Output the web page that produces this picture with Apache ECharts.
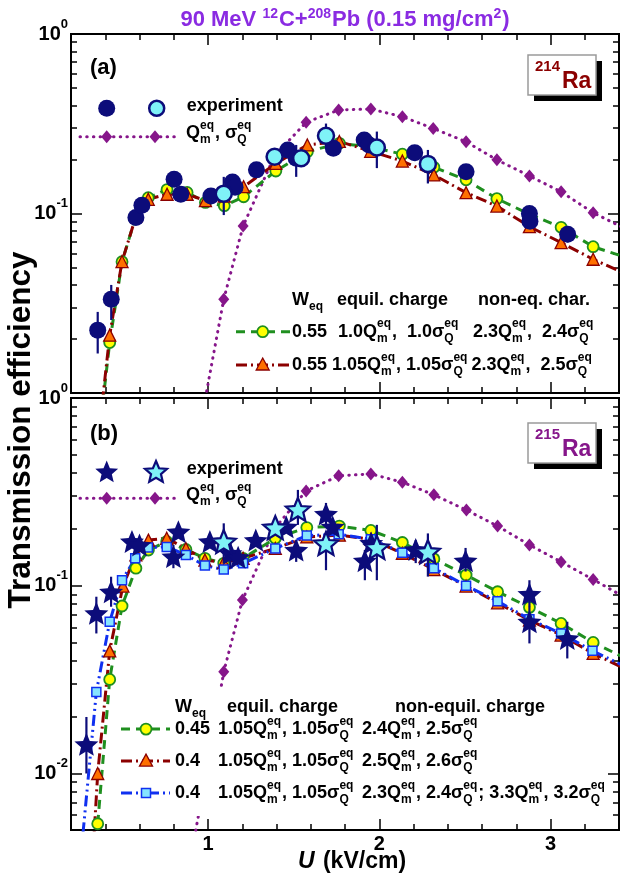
<!DOCTYPE html>
<html><head><meta charset="utf-8">
<script src="https://cdn.jsdelivr.net/npm/echarts@6/dist/echarts.min.js"></script>
<style>html,body{margin:0;padding:0;background:#fff}#c{width:620px;height:880px}</style>
</head><body><div id="c"></div>
<script>
// ---------------- DATA ----------------
// x-axis tick values
const xMajorTicks = [1, 2, 3];
const yDecades = [0.01, 0.1, 1];
const yMinorA = [0.02,0.03,0.04,0.05,0.06,0.07,0.08,0.09,0.2,0.3,0.4,0.5,0.6,0.7,0.8,0.9];
const yMinorB = [0.006,0.007,0.008,0.009,0.02,0.03,0.04,0.05,0.06,0.07,0.08,0.09,0.2,0.3,0.4,0.5,0.6,0.7,0.8,0.9];

// Panel (a) 214Ra
const aExpX = [0.356,0.435,0.579,0.614,0.802,0.841,1.017,1.143,1.158,1.283,1.466,1.515,1.732,1.912,1.941,2.207,2.507,2.877,2.880,3.100];
const aExpY = [0.0224,0.0333,0.095,0.111,0.155,0.128,0.125,0.150,0.140,0.175,0.226,0.203,0.231,0.257,0.241,0.218,0.171,0.100,0.0905,0.0766];
const aExpOpenX = [1.092,1.389,1.544,1.689,1.986,2.284];
const aExpOpenY = [0.129,0.207,0.203,0.271,0.233,0.189];
const aErrX  = [0.356,0.435,1.092,1.466,1.515,1.689,1.986,2.284,3.100];
const aErrLo = [0.0166,0.0255,0.098,0.205,0.160,0.231,0.179,0.147,0.069];
const aErrHi = [0.0283,0.040,0.160,0.250,0.241,0.317,0.286,0.226,0.085];
const aEqX = [0.985,1.092,1.205,1.389,1.573,1.763,1.951,2.135,2.315,2.507,2.687,2.877,3.062,3.249,3.44];
const aEqY = [0.0094,0.0333,0.0852,0.21,0.322,0.377,0.382,0.346,0.298,0.251,0.199,0.162,0.132,0.101,0.082];
const aM1X = [0.356,0.426,0.498,0.58,0.651,0.761,0.878,0.985,1.095,1.208,1.396,1.58,1.767,1.95,2.135,2.319,2.507,2.687,2.877,3.062,3.249,3.44];
const aM1Y = [0.005,0.0191,0.0539,0.097,0.1225,0.136,0.131,0.1153,0.1105,0.124,0.1725,0.221,0.246,0.235,0.214,0.181,0.154,0.121,0.099,0.0838,0.0653,0.057];
const aM2X = [0.356,0.426,0.498,0.58,0.651,0.761,0.878,0.985,1.095,1.208,1.396,1.58,1.767,1.95,2.135,2.319,2.507,2.687,2.877,3.062,3.249,3.44];
const aM2Y = [0.0052,0.021,0.054,0.097,0.12,0.128,0.128,0.118,0.125,0.141,0.19,0.241,0.252,0.222,0.196,0.164,0.1306,0.110,0.0845,0.0688,0.0556,0.046];

// Panel (b) 215Ra
const bExpX = [0.290,0.348,0.434,0.556,0.600,0.798,0.827,1.011,1.131,1.176,1.279,1.457,1.515,1.689,1.728,1.916,1.953,2.213,2.504,2.877,2.877,3.098];
const bExpY = [0.0143,0.0713,0.0929,0.172,0.165,0.143,0.194,0.172,0.149,0.142,0.175,0.206,0.155,0.241,0.206,0.136,0.169,0.156,0.136,0.0903,0.0643,0.0524];
const bExpOpenX = [1.092,1.393,1.525,1.689,1.986,2.284];
const bExpOpenY = [0.172,0.204,0.255,0.168,0.160,0.152];
const bErrX  = [0.290,0.348,0.434,0.798,1.092,1.131,1.525,1.515,1.689,1.689,1.916,1.986,2.284,2.213,2.504,2.877,2.877,3.098];
const bErrLo = [0.010,0.0557,0.0773,0.124,0.1316,0.124,0.211,0.134,0.206,0.121,0.107,0.107,0.112,0.132,0.119,0.077,0.0493,0.041];
const bErrHi = [0.020,0.0874,0.1117,0.165,0.215,0.175,0.324,0.175,0.276,0.190,0.155,0.211,0.190,0.175,0.159,0.107,0.0773,0.0643];
const bEqX = [0.9,0.985,1.092,1.201,1.393,1.573,1.763,1.951,2.135,2.319,2.509,2.691,2.877,3.062,3.249,3.44];
const bEqY = [0.0036,0.0095,0.0348,0.0839,0.204,0.320,0.385,0.394,0.356,0.305,0.253,0.208,0.165,0.134,0.108,0.086];
const bM1X = [0.356,0.426,0.498,0.579,0.652,0.759,0.871,0.982,1.092,1.205,1.393,1.577,1.767,1.951,2.135,2.319,2.507,2.691,2.877,3.062,3.249,3.44];
const bM1Y = [0.0054,0.0317,0.078,0.124,0.155,0.172,0.156,0.140,0.1316,0.140,0.179,0.204,0.208,0.197,0.170,0.139,0.114,0.0929,0.0767,0.063,0.0499,0.041];
const bM2X = [0.33,0.356,0.426,0.503,0.579,0.652,0.759,0.871,0.982,1.092,1.205,1.393,1.577,1.767,1.951,2.135,2.319,2.507,2.691,2.877,3.062,3.249,3.44];
const bM2Y = [0.004,0.010,0.045,0.0996,0.146,0.175,0.179,0.158,0.137,0.133,0.140,0.158,0.182,0.186,0.177,0.149,0.122,0.0996,0.0811,0.0656,0.0546,0.0436,0.036];
const bM3X = [0.27,0.348,0.426,0.498,0.575,0.649,0.759,0.871,0.982,1.092,1.205,1.393,1.577,1.763,1.951,2.135,2.319,2.507,2.691,2.877,3.062,3.245,3.44];
const bM3Y = [0.0048,0.0272,0.0643,0.107,0.140,0.160,0.161,0.146,0.128,0.122,0.1316,0.158,0.185,0.188,0.177,0.150,0.124,0.100,0.0828,0.0664,0.0557,0.045,0.037];

// ---------------- STYLE ----------------
const FF = '"Liberation Sans", Arial, Helvetica, sans-serif';
const NAVY = '#0c0c7a', CYAN = '#7ff2f7', PURPLE = '#86168a', GREEN = '#1f8f1f', DRED = '#8b0000',
      ORANGE = '#ff7000', BLUE = '#1030f0', LBLUE = '#86e4ff', YEL = '#ffff00';
const DOT = [0.5, 6.2], DASH = [9, 6], DASHDOT = [11, 4, 2, 4], DASHDOTDOT = [11, 4, 2, 4, 2, 4];

function starPts(cx, cy, R, r) {
  const p = [];
  for (let i = 0; i < 10; i++) { const a = -Math.PI/2 + i*Math.PI/5, rr = i % 2 ? r : R; p.push([cx + rr*Math.cos(a), cy + rr*Math.sin(a)]); }
  return p;
}
const STAR = 'path://' + starPts(0,0,10,4.5).map((q,i)=>(i?'L':'M')+q[0].toFixed(2)+' '+q[1].toFixed(2)).join('') + 'Z';

const chart = echarts.init(document.getElementById('c'), null, {renderer: 'canvas', width: 620, height: 880});

const grids = [{left: 71, top: 34, width: 548, height: 359}, {left: 71, top: 398, width: 548, height: 432}];
const AX = {color: '#000', width: 2};
function xAxes(g, labels) {
  const base = {gridIndex: g, type: 'value', min: 0.2, max: 3.4, splitLine: {show: false}, axisLine: {show: true, onZero: false, lineStyle: AX}};
  const lab = {show: false};
  const major = {inside: true, length: 11, lineStyle: {color: '#000', width: 1.5}, customValues: xMajorTicks};
  const minor = {inside: true, length: 6, lineStyle: {color: '#000', width: 1.5}};
  return [
    Object.assign({}, base, {position: 'bottom', axisTick: major,
      axisLabel: labels ? {show: true, customValues: xMajorTicks, margin: 4, fontSize: 20, fontWeight: 'bold', fontFamily: FF, color: '#000'} : lab}),
    Object.assign({}, base, {position: 'bottom', interval: 0.2, axisTick: minor, axisLabel: lab}),
    Object.assign({}, base, {position: 'top', axisTick: major, axisLabel: lab}),
    Object.assign({}, base, {position: 'top', interval: 0.2, axisTick: minor, axisLabel: lab})
  ];
}
function yAxes(g, min, minors) {
  const base = {gridIndex: g, type: 'log', logBase: 10, min: min, max: 1, splitLine: {show: false}, axisLine: {show: true, onZero: false, lineStyle: AX}, axisLabel: {show: false}};
  const major = {inside: true, length: 11, lineStyle: {color: '#000', width: 1.5}, customValues: yDecades};
  const minor = {inside: true, length: 6, lineStyle: {color: '#000', width: 1.5}, customValues: minors};
  return [
    Object.assign({}, base, {position: 'left', axisTick: major}),
    Object.assign({}, base, {position: 'left', axisTick: minor}),
    Object.assign({}, base, {position: 'right', axisTick: major}),
    Object.assign({}, base, {position: 'right', axisTick: minor})
  ];
}
const pairs = (xs, ys) => xs.map((x, i) => [x, ys[i]]);
function lineS(p, xs, ys, color, dash, cap, symbol, size, fill, border, bw, z) {
  return {type: 'line', xAxisIndex: p*4, yAxisIndex: p*4, data: pairs(xs, ys), clip: true, z: z,
    symbol: symbol, symbolSize: size, showSymbol: true,
    lineStyle: {color: color, width: 3, type: dash, cap: cap},
    itemStyle: {color: fill, borderColor: border, borderWidth: bw},
    emphasis: {disabled: true}, silent: true, animation: false};
}
function scatS(p, xs, ys, symbol, size, fill, border, bw, z) {
  return {type: 'scatter', xAxisIndex: p*4, yAxisIndex: p*4, data: pairs(xs, ys), clip: true, z: z,
    symbol: symbol, symbolSize: size, itemStyle: {color: fill, borderColor: border, borderWidth: bw, opacity: 1},
    emphasis: {disabled: true}, silent: true, animation: false};
}
function errS(p, xs, lo, hi) {
  return {type: 'custom', xAxisIndex: p*4, yAxisIndex: p*4, clip: true, silent: true, animation: false, z: 6,
    data: xs.map((x, i) => [x, lo[i], hi[i]]),
    encode: {x: 0, y: [1, 2]},
    renderItem: function (params, api) {
      const a = api.coord([api.value(0), api.value(1)]), b = api.coord([api.value(0), api.value(2)]);
      return {type: 'line', shape: {x1: a[0], y1: a[1], x2: b[0], y2: b[1]}, style: {stroke: NAVY, lineWidth: 2.2}};
    }};
}

const series = [
  lineS(0, aEqX, aEqY, PURPLE, DOT, 'round', 'diamond', [11, 13], PURPLE, PURPLE, 0, 3),
  lineS(0, aM1X, aM1Y, GREEN, DASH, 'butt', 'circle', 11, YEL, GREEN, 1.8, 4),
  lineS(0, aM2X, aM2Y, DRED, DASHDOT, 'butt', 'triangle', 12, ORANGE, DRED, 1.3, 4),
  errS(0, aErrX, aErrLo, aErrHi),
  scatS(0, aExpX, aExpY, 'circle', 17, NAVY, NAVY, 0, 7),
  scatS(0, aExpOpenX, aExpOpenY, 'circle', 16, CYAN, NAVY, 2.5, 8),

  lineS(1, bEqX, bEqY, PURPLE, DOT, 'round', 'diamond', [11, 13], PURPLE, PURPLE, 0, 3),
  lineS(1, bM1X, bM1Y, GREEN, DASH, 'butt', 'circle', 11, YEL, GREEN, 1.8, 4),
  lineS(1, bM2X, bM2Y, DRED, DASHDOT, 'butt', 'triangle', 12, ORANGE, DRED, 1.3, 4),
  lineS(1, bM3X, bM3Y, BLUE, DASHDOTDOT, 'butt', 'rect', 9, LBLUE, BLUE, 1.5, 4),
  errS(1, bErrX, bErrLo, bErrHi),
  scatS(1, bExpX, bExpY, STAR, [24, 23], NAVY, NAVY, 0, 7),
  scatS(1, bExpOpenX, bExpOpenY, STAR, [24, 23], CYAN, NAVY, 2.2, 8)
];

chart.setOption({
  animation: false,
  backgroundColor: '#fff',
  grid: grids,
  xAxis: xAxes(0, false).concat(xAxes(1, true)),
  yAxis: yAxes(0, 0.01, yMinorA).concat(yAxes(1, 0.005, yMinorB)),
  series: series
});

// ---------------- TEXT / LEGENDS (graphic) ----------------
const mctx = document.createElement('canvas').getContext('2d');
function tw(s, size, it) { mctx.font = (it ? 'italic ' : '') + 'bold ' + size + 'px ' + FF; return mctx.measureText(s).width; }
function txt(s, x, base, size, color, it) {
  return {type: 'text', x: x, y: base - 0.35*size, z: 120, silent: true,
    style: {text: s, fontSize: size, fontWeight: 'bold', fontStyle: it ? 'italic' : 'normal', fontFamily: FF, fill: color,
      align: 'left', verticalAlign: 'middle', textAlign: 'left', textVerticalAlign: 'middle'}};
}
function mathLayout(tokens, size, o) {
  o = Object.assign({ratio: 0.66, sup: 0.55, sub: 0.25}, o || {});
  const ss = Math.round(size*o.ratio);
  const items = []; let cx = 0;
  tokens.forEach(t => {
    if (typeof t === 'string') { items.push([t, cx, 0, size, false]); cx += tw(t, size); }
    else if (t.it) { items.push([t.it, cx, 0, size, true]); cx += tw(t.it, size, true) + 2; }
    else {
      let w = 0;
      if (t.sup) { items.push([t.sup, cx, -size*o.sup, ss, false]); w = Math.max(w, tw(t.sup, ss)); }
      if (t.sub) { items.push([t.sub, cx, size*o.sub, ss, false]); w = Math.max(w, tw(t.sub, ss)); }
      cx += w + 1;
    }
  });
  return {items: items, width: cx};
}
function mathText(tokens, x, base, size, color, align, o) {
  const L = mathLayout(tokens, size, o);
  const x0 = align === 'center' ? x - L.width/2 : align === 'right' ? x - L.width : x;
  return L.items.map(it => txt(it[0], x0 + it[1], base + it[2], it[3], color, it[4]));
}
const Qm = ['Q', {sup: 'eq', sub: 'm'}];
const SQ = ['σ', {sup: 'eq', sub: 'Q'}];
const G = [];
const add = a => { Array.isArray(a) ? a.forEach(e => G.push(e)) : G.push(a); };

function hline(x1, x2, y, color, dash, cap) {
  return {type: 'line', z: 115, silent: true, shape: {x1: x1, y1: y, x2: x2, y2: y}, style: {stroke: color, lineWidth: 3, lineDash: dash, lineCap: cap}};
}
function circ(cx, cy, r, fill, stroke, lw) { return {type: 'circle', z: 116, silent: true, shape: {cx: cx, cy: cy, r: r}, style: {fill: fill, stroke: stroke, lineWidth: lw}}; }
function poly(pts, fill, stroke, lw) { return {type: 'polygon', z: 116, silent: true, shape: {points: pts}, style: {fill: fill, stroke: stroke, lineWidth: lw}}; }
function diamond(cx, cy) { return poly([[cx, cy-6.5], [cx+5.5, cy], [cx, cy+6.5], [cx-5.5, cy]], PURPLE, PURPLE, 0); }
function tri(cx, cy) { return poly([[cx, cy-7], [cx+6.5, cy+5], [cx-6.5, cy+5]], ORANGE, DRED, 1.3); }
function sq(cx, cy) { return {type: 'rect', z: 116, silent: true, shape: {x: cx-4.5, y: cy-4.5, width: 9, height: 9}, style: {fill: LBLUE, stroke: BLUE, lineWidth: 1.5}}; }

// title
add(mathText(['90 MeV ', {sup: '12'}, 'C+', {sup: '208'}, 'Pb (0.15 mg/cm', {sup: '2'}, ')'], 345, 28, 22, '#8a2be2', 'center', {ratio: 0.64, sup: 0.42}));
// axis titles
add({type: 'text', x: 21, y: 430, rotation: Math.PI/2, z: 120, silent: true,
  style: {text: 'Transmission efficiency', fontSize: 31.5, fontWeight: 'bold', fontFamily: FF, fill: '#000',
    align: 'center', verticalAlign: 'middle', textAlign: 'center', textVerticalAlign: 'middle'}});
add(mathText([{it: 'U'}, ' (kV/cm)'], 352, 870, 23, '#000', 'center'));

// y tick labels (positions from the axes)
function yLab(yi, v, s) {
  const py = chart.convertToPixel({yAxisIndex: yi}, v);
  add(mathText(['10', {sup: s}], 69, py + 7, 20, '#000', 'right', {ratio: 0.65, sup: 0.62}));
}
yLab(0, 1, '0'); yLab(0, 0.1, '-1');
yLab(4, 1, '0'); yLab(4, 0.1, '-1'); yLab(4, 0.01, '-2');

// panel labels
add(txt('(a)', 90, 76, 22, '#000'));
add(txt('(b)', 90, 442, 22, '#000'));

// Ra boxes
function raBox(y, mass, color) {
  add({type: 'rect', z: 112, silent: true, shape: {x: 534, y: y+6, width: 68, height: 40}, style: {fill: '#000'}});
  add({type: 'rect', z: 113, silent: true, shape: {x: 528, y: y, width: 68, height: 40}, style: {fill: '#fff', stroke: '#9a9a9a', lineWidth: 1.5}});
  add(txt(mass, 535, y + 17, 15, color));
  add(txt('Ra', 562, y + 35, 23, color));
}
raBox(55, '214', DRED);
raBox(423, '215', PURPLE);

// legend (a)
add(circ(106.7, 108.3, 8.5, NAVY, NAVY, 0));
add(circ(156.7, 108.3, 7.5, CYAN, NAVY, 2.5));
add(txt('experiment', 186.7, 112.5, 18, '#000'));
add(hline(80, 175, 136.7, PURPLE, DOT, 'round'));
add(diamond(106.7, 136.7)); add(diamond(155, 136.7));
add(mathText(Qm.concat([', '], SQ), 186, 139.5, 18, '#000', 'left'));

add(mathText(['W', {sub: 'eq'}], 292, 306.5, 18, '#000', 'left'));
add(txt('equil. charge', 337, 306.5, 18, '#000'));
add(txt('non-eq. char.', 478, 306.5, 18, '#000'));
add(hline(236, 290, 331.7, GREEN, DASH, 'butt')); add(circ(262.7, 331.7, 5.5, YEL, GREEN, 1.8));
add(txt('0.55', 292, 338, 18, '#000'));
add(mathText(['1.0'].concat(Qm, [',  1.0'], SQ), 338, 338, 18, '#000', 'left'));
add(mathText(['2.3'].concat(Qm, [',  2.4'], SQ), 473, 338, 18, '#000', 'left'));
add(hline(236, 290, 365, DRED, DASHDOT, 'butt')); add(tri(262.7, 365));
add(txt('0.55', 292, 371.5, 18, '#000'));
const a2c2 = ['1.05'].concat(Qm, [', 1.05'], SQ);
add(mathText(a2c2, 332, 371.5, 18, '#000', 'left'));
const a2c3x = Math.max(465, 332 + mathLayout(a2c2, 18).width + 3);
add(mathText(['2.3'].concat(Qm, [',  2.5'], SQ), a2c3x, 371.5, 18, '#000', 'left'));

// legend (b)
add(poly(starPts(106.7, 472.5, 12, 5.4), NAVY, NAVY, 0));
add(poly(starPts(156, 472.5, 11.5, 5.2), CYAN, NAVY, 2.2));
add(txt('experiment', 186.7, 475.5, 18, '#000'));
add(hline(80, 177, 498.3, PURPLE, DOT, 'round'));
add(diamond(106.7, 498.3)); add(diamond(155, 498.3));
add(mathText(Qm.concat([', '], SQ), 186, 501.5, 18, '#000', 'left'));

add({type: 'rect', z: 105, silent: true, shape: {x: 114, y: 690, width: 490, height: 126}, style: {fill: '#fff'}});
add(mathText(['W', {sub: 'eq'}], 175, 713, 18, '#000', 'left'));
add(txt('equil. charge', 227, 713, 18, '#000'));
add(txt('non-equil. charge', 395, 713, 18, '#000'));
const rowsB = [735.5, 767.5, 799.5];
add(hline(121, 170, rowsB[0]-6.4, GREEN, DASH, 'butt')); add(circ(146, rowsB[0]-6.4, 5.5, YEL, GREEN, 1.8));
add(hline(121, 170, rowsB[1]-6.4, DRED, DASHDOT, 'butt')); add(tri(146, rowsB[1]-6.4));
add(hline(121, 170, rowsB[2]-6.4, BLUE, DASHDOTDOT, 'butt')); add(sq(146, rowsB[2]-6.4));
const wB = ['0.45', '0.4', '0.4'];
const nonB = [
  ['2.4'].concat(Qm, [', 2.5'], SQ),
  ['2.5'].concat(Qm, [', 2.6'], SQ),
  ['2.3'].concat(Qm, [', 2.4'], SQ, ['; 3.3'], Qm, [', 3.2'], SQ)
];
rowsB.forEach((b, i) => {
  add(txt(wB[i], 175, b, 18, '#000'));
  add(mathText(['1.05'].concat(Qm, [', 1.05'], SQ), 218, b, 18, '#000', 'left'));
  add(mathText(nonB[i], 362, b, 18, '#000', 'left'));
});

chart.setOption({graphic: {elements: G}});
</script></body></html>
